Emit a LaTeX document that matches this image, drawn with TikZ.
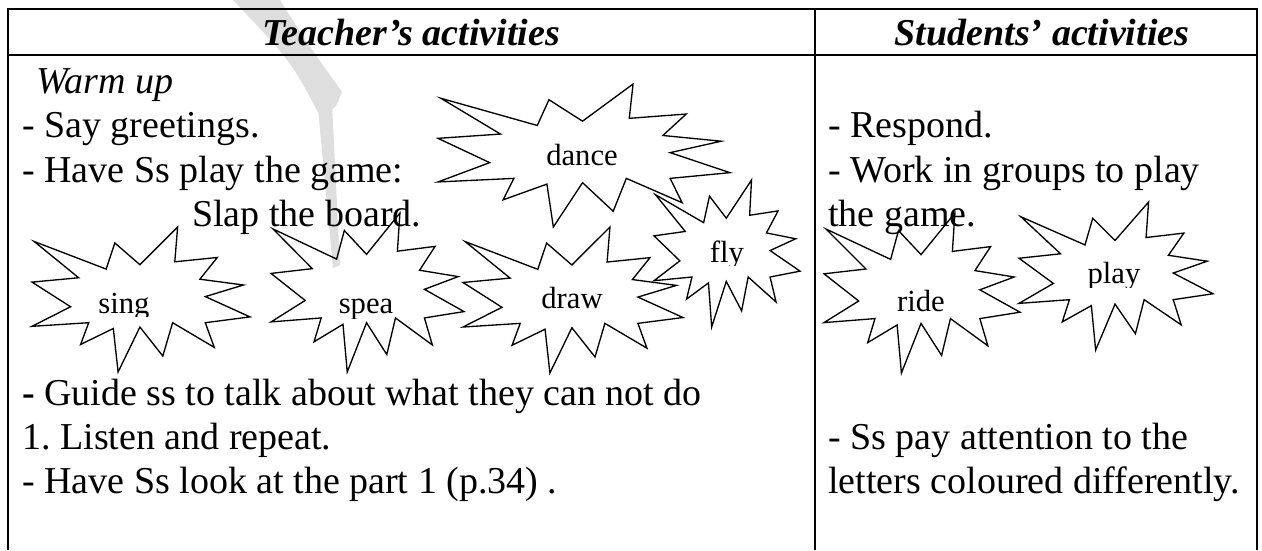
\documentclass[tikz,border=0pt]{standalone}
\usepackage{fontspec}
\setmainfont{Liberation Serif}
\usetikzlibrary{positioning}
\tikzset{
  rule/.style={line width=1.5pt},
  body/.style={anchor=base west,inner sep=0pt,font=\fontsize{28.5pt}{34pt}\selectfont\frenchspacing},
  hdr/.style={anchor=base,inner sep=0pt,font=\fontsize{28.5pt}{34pt}\selectfont\bfseries\itshape},
  seal/.style={draw,line width=1pt,line join=miter},
  word/.style={anchor=base,inner sep=0pt,font=\fontsize{23pt}{27pt}\selectfont},
}
% explosion outline in a unit box, placed at #1,#2 with size #3 x #4
\newcommand\burst[4]{%
  \path [seal,shift={(#1,#2)},xscale=#3,yscale=#4]
    (0.01,0.10) -- (0.34,0.29) -- (0.38,0.11) -- (0.495,0.26) -- (0.668,0)
    -- (0.655,0.24) -- (0.85,0.21) -- (0.77,0.36) -- (0.97,0.40) -- (0.795,0.48)
    -- (1,0.62) -- (0.795,0.66) -- (0.836,0.83) -- (0.645,0.66) -- (0.60,0.89)
    -- (0.495,0.69) -- (0.395,1) -- (0.373,0.70) -- (0.223,0.81) -- (0.26,0.66)
    -- (0,0.685) -- (0.177,0.55) -- (0,0.38) -- (0.214,0.35) -- cycle;}

\begin{document}
\begin{tikzpicture}[x=0.75pt,y=-0.75pt]
    \useasboundingbox (0,0) rectangle (1262,550);
    % watermark
    \path [fill=black!13] (233,0) -- (280,0) .. controls (305,40) .. (342,92)
      .. controls (335,110) .. (318,112) .. controls (290,60) .. cycle;
    \path [fill=black!13] (318,108) -- (332,104) -- (340,265) -- (333,268) -- cycle;

    % table
    \coordinate (tl) at (8,9);
    \coordinate (tr) at (1257,9);
    \coordinate (hl) at (8,55);
    \coordinate (hr) at (1257,55);
    \coordinate (mt) at (815,9);
    \coordinate (bl) at (8,550);
    \coordinate (br) at (1257,550);
    \coordinate (mb) at (815,550);
    \path [draw,rule] (bl) -- (tl) -- (tr) -- (br);
    \path [draw,rule] (hl) -- (hr);
    \path [draw,rule] (mt) -- (mb);

    \node (teach) at (411,45) [hdr] {Teacher’s activities};
    \node (stud) at (1042,45) [hdr] {Students’ activities};

    % teacher column
    \node (warm) at (36,93) [body] {\itshape Warm up};
    \node (greet) at (22,137) [body] {- Say greetings.};
    \node (game) at (22,182) [body] {- Have Ss play the game:};
    \node (slap) at (192,226) [body] {Slap the board.};
    \node (guide) at (22,405) [body] {\textbf{-} Guide ss to talk about what they can not do};
    \node (listen) at (22,449) [body] {1. Listen and repeat.};
    \node (look) at (22,493) [body] {- Have Ss look at the part 1 (p.34) .};

    % students column
    \node (resp) at (828,137) [body] {- Respond.};
    \node (work) at (828,182) [body] {- Work in groups to play};
    \node (work2) at (828,226) [body] {the game.};
    \node (pay) at (828,449) [body] {- Ss pay attention to the};
    \node (pay2) at (828,493) [body] {letters coloured differently.};

    % bursts
    \burst{438}{84}{292}{143}
    \burst{32}{227}{218}{145}
    \burst{271}{213}{193}{159}
    \burst{463}{227}{220}{146}
    \burst{654}{180}{146}{147}
    \burst{824}{213}{196}{160}
    \burst{1019}{202}{194}{148}

    \node (dance) at (582,165) [word] {dance};
    \node (draw) at (572,308) [word] {draw};
    \node (ride) at (921,311) [word] {ride};
    \begin{scope}
      \clip (60,250) rectangle (200,316);
      \node (sing) at (124,313) [word] {sing};
    \end{scope}
    \begin{scope}
      \clip (300,250) rectangle (395,318);
      \node (spea) at (366,313) [word] {spea};
    \end{scope}
    \begin{scope}
      \clip (690,200) rectangle (770,265);
      \node (fly) at (727,262) [word] {fly};
    \end{scope}
    \begin{scope}
      \clip (1070,230) rectangle (1160,287);
      \node (play) at (1114,283) [word] {play};
    \end{scope}
\end{tikzpicture}
\end{document}
